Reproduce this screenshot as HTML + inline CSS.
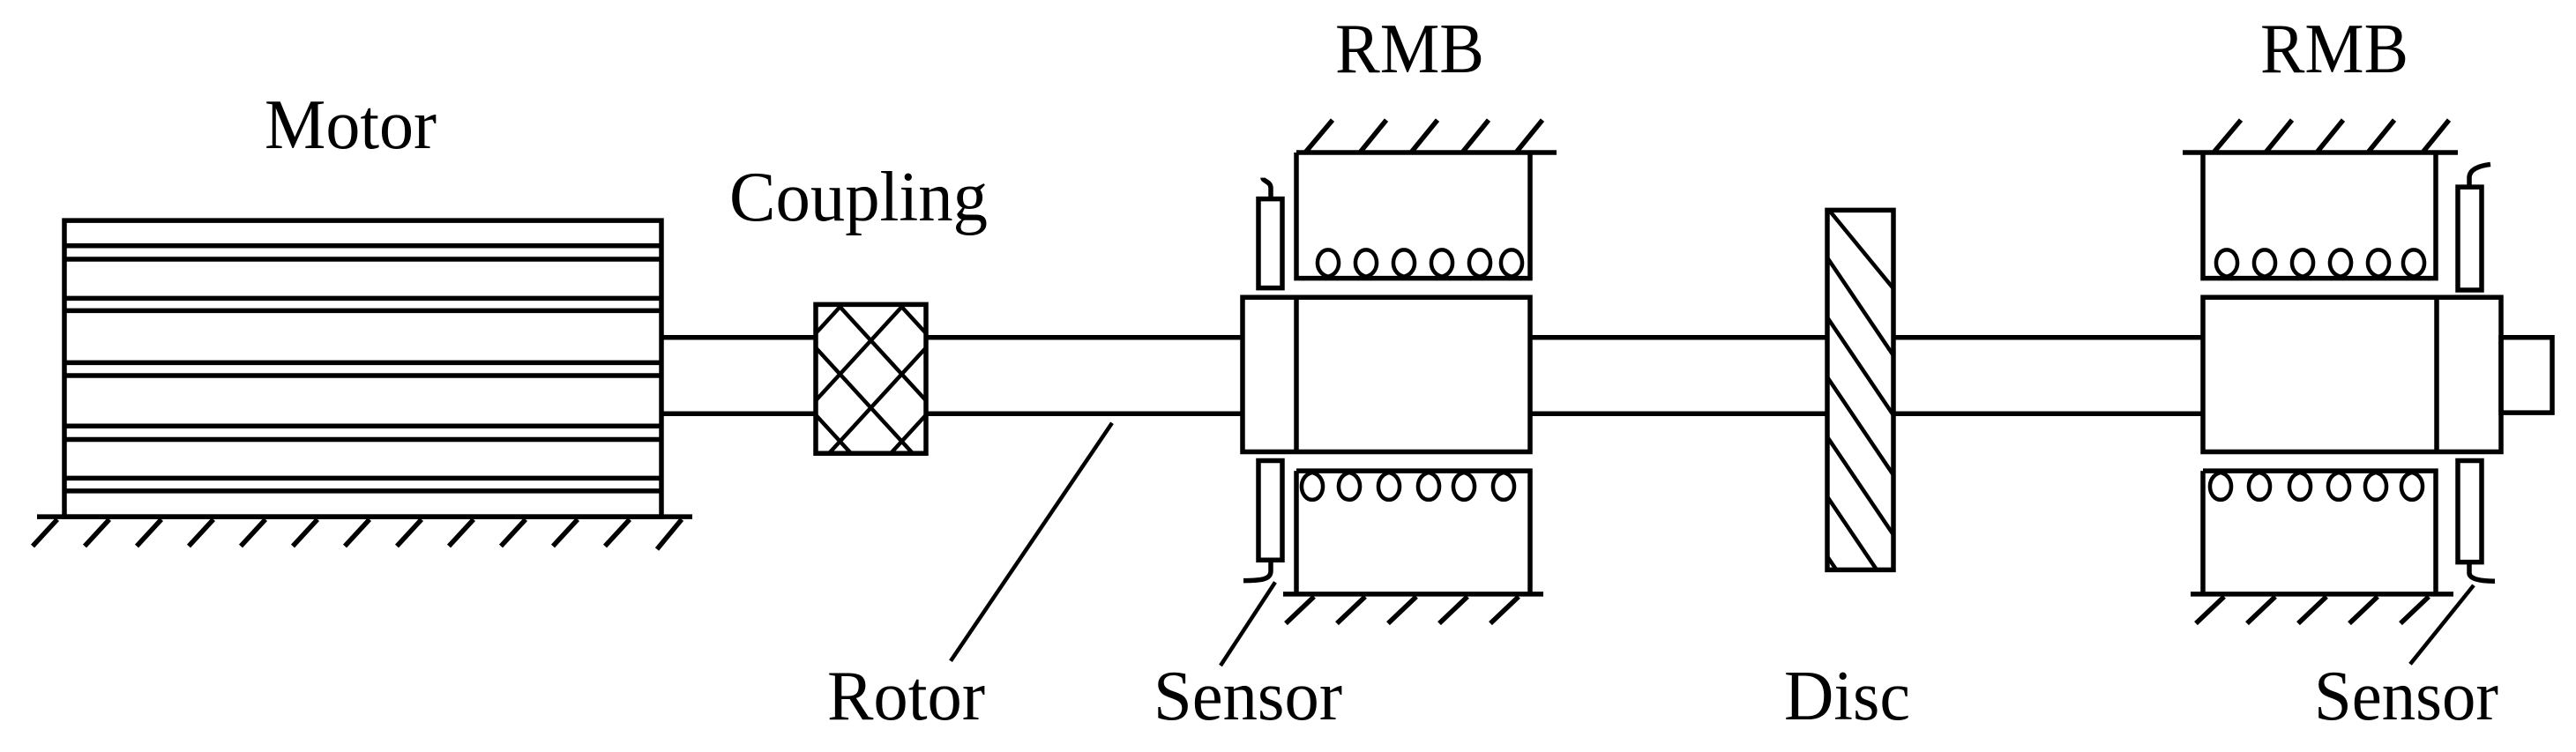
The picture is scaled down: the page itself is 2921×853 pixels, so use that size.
<!DOCTYPE html>
<html><head><meta charset="utf-8"><style>
html,body{margin:0;padding:0;background:#fff;}
svg{display:block;}
text{font-family:"Liberation Serif",serif;font-size:80px;fill:#000;}
.s *{vector-effect:non-scaling-stroke;}
</style></head><body>
<svg width="2921" height="853" viewBox="0 0 2921 853" xmlns="http://www.w3.org/2000/svg">
<defs>
<clipPath id="cc"><rect x="925" y="591" width="125" height="289"/></clipPath>
<clipPath id="dc"><rect x="2072" y="408" width="75" height="698"/></clipPath>
</defs>
<g transform="scale(1,0.5844)">
<g class="s" fill="none" stroke="#000" stroke-width="5.5">
<rect x="73" y="428" width="677" height="575"/>
<path d="M73,477H750M73,503H750M73,579H750M73,603H750M73,704H750M73,729H750M73,827H750M73,853H750M73,928H750M73,953H750"/>
<path d="M42,1003H785"/>
<path d="M65,1008L37,1060M124,1008L96,1060M183,1008L155,1060M242,1008L214,1060M301,1008L273,1060M360,1008L332,1060M419,1008L391,1060M478,1008L450,1060M537,1008L509,1060M596,1008L568,1060M655,1008L627,1060M714,1008L686,1060M773,1008L745,1066"/>
<path d="M750,655H925M750,803H925M1050,655H1409M1050,803H1409"/>
<path d="M1735,655H2072M1735,803H2072M2147,655H2498M2147,803H2498"/>
<rect x="925" y="591" width="125" height="289"/>
<g clip-path="url(#cc)" stroke-width="4.5">
<path d="M810,591L965,880M880,591L1035,880M950,591L1105,880M1020,591L1175,880M740,591L895,880"/>
<path d="M1165,591L1010,880M1095,591L940,880M1025,591L870,880M955,591L800,880M1235,591L1080,880"/>
</g>
<rect x="1409" y="577" width="326" height="300"/>
<path d="M1470,577V877"/>
<path d="M1470,296H1765M1470,296V540H1735V296"/>
<path d="M1511,233L1480,296M1572,233L1542,296M1630,233L1600,296M1688,233L1658,296M1749,233L1719,296"/>
<path d="M1470,914H1735V1153M1470,914V1153M1455,1153H1750"/>
<path d="M1490,1158L1458,1210M1548,1158L1516,1210M1606,1158L1574,1210M1664,1158L1632,1210M1722,1158L1690,1210"/>
<rect x="1427" y="386" width="27" height="173"/>
<path d="M1441,386V365C1441,352 1432,352 1432,345"/>
<rect x="1427" y="894" width="27" height="193"/>
<path d="M1441,1087V1108C1441,1125 1430,1127 1410,1127"/>
<path d="M1446,1130L1384,1292" stroke-width="4.5"/>
<path d="M1261,821L1078,1283" stroke-width="4.5"/>
<rect x="2072" y="408" width="75" height="698"/>
<g clip-path="url(#dc)" stroke-width="4.5">
<path d="M2075,410L2147,560M2072,500L2147,690M2072,616L2147,806M2072,732L2147,922M2072,848L2147,1038M2072,964L2147,1154M2072,1080L2147,1270"/>
</g>
<rect x="2498" y="577" width="338" height="300"/>
<path d="M2763,577V877"/>
<rect x="2836" y="655" width="58" height="146"/>
<path d="M2475,296H2787M2498,296V540H2762V296"/>
<path d="M2541,233L2510,296M2599,233L2569,296M2657,233L2627,296M2715,233L2685,296M2777,233L2747,296"/>
<path d="M2498,914H2762V1153M2498,914V1153M2484,1153H2782"/>
<path d="M2522,1158L2490,1210M2580,1158L2548,1210M2638,1158L2606,1210M2696,1158L2664,1210M2754,1158L2722,1210"/>
<rect x="2787" y="363" width="27" height="200"/>
<path d="M2800,363V345C2800,330 2810,322 2824,319"/>
<rect x="2787" y="894" width="27" height="197"/>
<path d="M2800,1091V1112C2800,1125 2815,1128 2829,1128"/>
<path d="M2805,1136L2733,1289" stroke-width="4.5"/>
</g>
<g class="s" fill="none" stroke="#000" stroke-width="4.5">
<path d="M1506,537 C1488,529 1492,485 1506,485 C1520,485 1524,529 1506,537"/>
<path d="M1549,537 C1531,529 1535,485 1549,485 C1563,485 1567,529 1549,537"/>
<path d="M1592,537 C1574,529 1578,485 1592,485 C1606,485 1610,529 1592,537"/>
<path d="M1635,537 C1617,529 1621,485 1635,485 C1649,485 1653,529 1635,537"/>
<path d="M1678,537 C1660,529 1664,485 1678,485 C1692,485 1696,529 1678,537"/>
<path d="M1714,537 C1696,529 1700,485 1714,485 C1728,485 1732,529 1714,537"/>
<path d="M1488,917 C1470,925 1474,970 1488,970 C1502,970 1506,925 1488,917"/>
<path d="M1530,917 C1512,925 1516,970 1530,970 C1544,970 1548,925 1530,917"/>
<path d="M1575,917 C1557,925 1561,970 1575,970 C1589,970 1593,925 1575,917"/>
<path d="M1620,917 C1602,925 1606,970 1620,970 C1634,970 1638,925 1620,917"/>
<path d="M1660,917 C1642,925 1646,970 1660,970 C1674,970 1678,925 1660,917"/>
<path d="M1705,917 C1687,925 1691,970 1705,970 C1719,970 1723,925 1705,917"/>
<path d="M2525,537 C2507,529 2511,485 2525,485 C2539,485 2543,529 2525,537"/>
<path d="M2568,537 C2550,529 2554,485 2568,485 C2582,485 2586,529 2568,537"/>
<path d="M2611,537 C2593,529 2597,485 2611,485 C2625,485 2629,529 2611,537"/>
<path d="M2654,537 C2636,529 2640,485 2654,485 C2668,485 2672,529 2654,537"/>
<path d="M2697,537 C2679,529 2683,485 2697,485 C2711,485 2715,529 2697,537"/>
<path d="M2737,537 C2719,529 2723,485 2737,485 C2751,485 2755,529 2737,537"/>
<path d="M2518,917 C2500,925 2504,970 2518,970 C2532,970 2536,925 2518,917"/>
<path d="M2562,917 C2544,925 2548,970 2562,970 C2576,970 2580,925 2562,917"/>
<path d="M2608,917 C2590,925 2594,970 2608,970 C2622,970 2626,925 2608,917"/>
<path d="M2652,917 C2634,925 2638,970 2652,970 C2666,970 2670,925 2652,917"/>
<path d="M2694,917 C2676,925 2680,970 2694,970 C2708,970 2712,925 2694,917"/>
<path d="M2735,917 C2717,925 2721,970 2735,970 C2749,970 2753,925 2735,917"/>
</g>
</g>
<text x="300" y="168" textLength="195" lengthAdjust="spacingAndGlyphs">Motor</text>
<text x="827" y="250" textLength="293" lengthAdjust="spacingAndGlyphs">Coupling</text>
<text x="1514" y="82" textLength="169" lengthAdjust="spacingAndGlyphs">RMB</text>
<text x="2563" y="82" textLength="168" lengthAdjust="spacingAndGlyphs">RMB</text>
<text x="938" y="816" textLength="179" lengthAdjust="spacingAndGlyphs">Rotor</text>
<text x="1308" y="816" textLength="214" lengthAdjust="spacingAndGlyphs">Sensor</text>
<text x="2023" y="816" textLength="143" lengthAdjust="spacingAndGlyphs">Disc</text>
<text x="2624" y="816" textLength="209" lengthAdjust="spacingAndGlyphs">Sensor</text>
</svg>
</body></html>
